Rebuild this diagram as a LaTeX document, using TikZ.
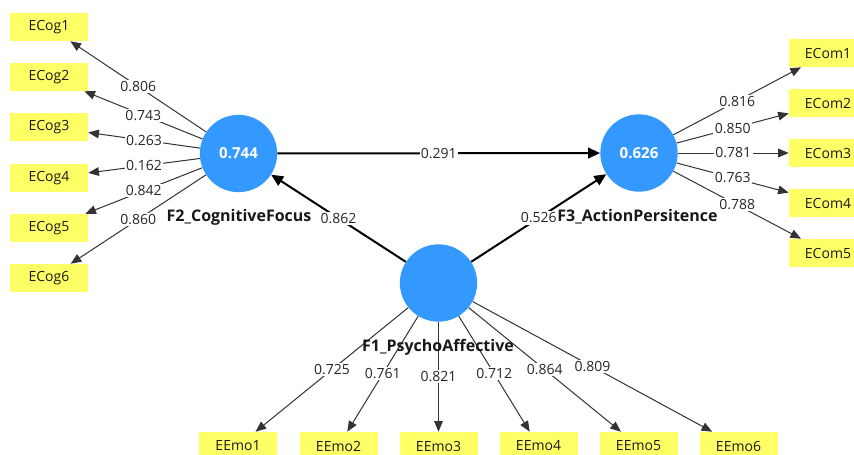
\documentclass[tikz,border=0pt]{standalone}
\usepackage{fontspec}
\setmainfont{Open Sans}
\usetikzlibrary{arrows.meta}
\definecolor{lvblue}{RGB}{51,153,255}
\definecolor{mvyellow}{RGB}{255,255,102}
\begin{document}
\begin{tikzpicture}[x=0.75pt,y=-0.75pt,
  lv/.style={circle,fill=lvblue,minimum size=58pt,inner sep=0pt,text=white,font=\fontsize{11.3}{13}\selectfont\bfseries},
  mv/.style={rectangle,fill=mvyellow,minimum width=58.5pt,minimum height=21pt,inner sep=0pt,font=\fontsize{10.5}{12}\selectfont,text=black!90},
  load/.style={draw=black!80,line width=0.75pt,-{Triangle[length=8pt,width=6.5pt]}},
  struct/.style={draw=black,line width=1.5pt,-{Triangle[length=9pt,width=8pt]}},
  lbl/.style={fill=white,inner sep=1pt,font=\fontsize{10.5}{12}\selectfont,text=black!85},
  lvname/.style={font=\fontsize{12}{14}\selectfont\bfseries,text=black!90}
]
\useasboundingbox (0,0) rectangle (854,454);
\fill[white] (0,0) rectangle (854,454);

% latent variables
\node[lv] (F2) at (238.5,153.5) {0.744};
\node[lv] (F3) at (639,153) {0.626};
\node[lv] (F1) at (438.5,283) {};

% indicators
\node[mv] (ECog1) at (49,27) {ECog1};
\node[mv] (ECog2) at (49,77) {ECog2};
\node[mv] (ECog3) at (49,127) {ECog3};
\node[mv] (ECog4) at (49,178) {ECog4};
\node[mv] (ECog5) at (49,228) {ECog5};
\node[mv] (ECog6) at (49,278) {ECog6};

\node[mv] (ECom1) at (828,53) {ECom1};
\node[mv] (ECom2) at (828,103) {ECom2};
\node[mv] (ECom3) at (828,153) {ECom3};
\node[mv] (ECom4) at (828,203) {ECom4};
\node[mv] (ECom5) at (828,253) {ECom5};

\node[mv] (EEmo1) at (238,446) {EEmo1};
\node[mv] (EEmo2) at (338.5,446) {EEmo2};
\node[mv] (EEmo3) at (438.5,446) {EEmo3};
\node[mv] (EEmo4) at (538.5,446) {EEmo4};
\node[mv] (EEmo5) at (638.5,446) {EEmo5};
\node[mv] (EEmo6) at (738.5,446) {EEmo6};

% loadings
\draw[load] (F2) -- node[lbl]{0.806} (ECog1);
\draw[load] (F2) -- node[lbl]{0.743} (ECog2);
\draw[load] (F2) -- node[lbl]{0.263} (ECog3);
\draw[load] (F2) -- node[lbl]{0.162} (ECog4);
\draw[load] (F2) -- node[lbl]{0.842} (ECog5);
\draw[load] (F2) -- node[lbl]{0.860} (ECog6);

\draw[load] (F3) -- node[lbl]{0.816} (ECom1);
\draw[load] (F3) -- node[lbl]{0.850} (ECom2);
\draw[load] (F3) -- node[lbl]{0.781} (ECom3);
\draw[load] (F3) -- node[lbl]{0.763} (ECom4);
\draw[load] (F3) -- node[lbl]{0.788} (ECom5);

\draw[load] (F1) -- node[lbl]{0.725} (EEmo1);
\draw[load] (F1) -- node[lbl]{0.761} (EEmo2);
\draw[load] (F1) -- node[lbl]{0.821} (EEmo3);
\draw[load] (F1) -- node[lbl]{0.712} (EEmo4);
\draw[load] (F1) -- node[lbl]{0.864} (EEmo5);
\draw[load] (F1) -- node[lbl]{0.809} (EEmo6);

% structural paths
\draw[struct] (F2) -- node[lbl]{0.291} (F3);
\draw[struct] (F1) -- node[lbl]{0.862} (F2);
\draw[struct] (F1) -- node[lbl]{0.526} (F3);

% latent variable names
\node[lvname] (F2name) at (239,217) {F2\_CognitiveFocus};
\node[lvname] (F3name) at (637.5,217) {F3\_ActionPersitence};
\node[lvname] (F1name) at (438,347) {F1\_PsychoAffective};
\end{tikzpicture}
\end{document}
